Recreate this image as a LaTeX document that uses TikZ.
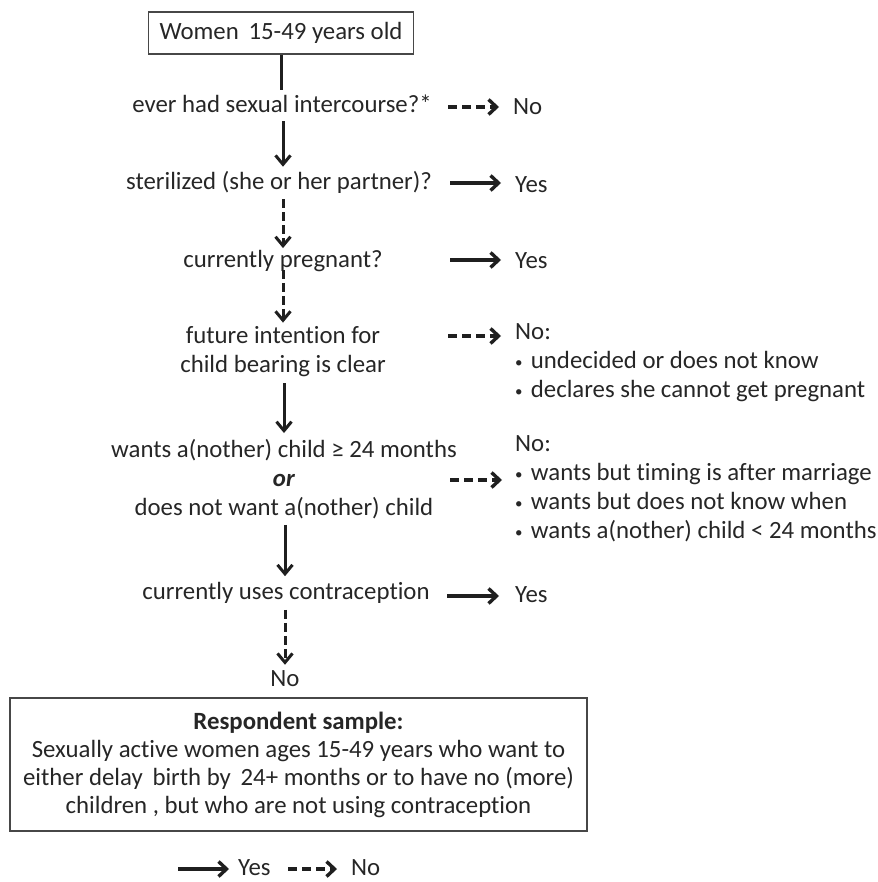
\documentclass[tikz,border=0pt]{standalone}
\usepackage{fontspec}
\setmainfont{Carlito}[Ligatures=NoCommon]
\usetikzlibrary{arrows.meta,calc}
\newcommand{\bul}{{\fontsize{15}{15}\selectfont\raisebox{1.5pt}{•}}\,\,}
\begin{document}
\begin{tikzpicture}[x=1pt,y=-1pt,
  every node/.style={font=\fontsize{24.8}{29}\selectfont, text=black!85, inner sep=0pt},
  q/.style={align=center},
  lab/.style={anchor=west, align=left},
  yarr/.style={draw=black!88, line width=3.4pt, -{Straight Barb[length=8pt,width=15pt]}},
  narr/.style={yarr, dash pattern=on 9pt off 5pt},
  varr/.style={draw=black!88, line width=3pt, -{Straight Barb[length=9pt,width=15pt]}},
  vdash/.style={varr, dash pattern=on 9pt off 4pt},
  frame/.style={draw=black!72, line width=1.8pt}
]
\useasboundingbox (0,0) rectangle (877,882);

% main column
\node[frame, minimum width=265pt, minimum height=42pt] (top) at (281,33) {Women\, 15-49 years old};
\node[q] (q1) at (282,104) {ever had sexual intercourse?*};
\node[q] (q2) at (279,182) {sterilized (she or her partner)?};
\node[q] (q3) at (283,261) {currently pregnant?};
\node[q] (q4) at (283,352) {future intention for\\child bearing is clear};
\node[q] (q5) at (284,479) {wants a(nother) child ≥ 24 months\\\textbf{\textit{or}}\\does not want a(nother) child};
\node[q] (q6) at (286,593) {currently uses contraception};
\node[q] (no7) at (285,679) {No};
\node[frame, minimum width=577pt, minimum height=133pt, align=center] (res) at (298.5,764.5)
  {\textbf{Respondent sample:}\\[-1pt]Sexually active women ages 15-49 years who want to\\[-1pt]either delay\, birth by\, 24+ months or to have no (more)\\[-1pt]children , but who are not using contraception};

% right column
\node[lab] (n1) at (513,107) {No};
\node[lab] (y2) at (515,185) {Yes};
\node[lab] (y3) at (515,261) {Yes};
\node[lab] (n4) at (515,363) {No:\\\bul undecided or does not know\\\bul declares she cannot get pregnant};
\node[lab] (n5) at (515,489) {No:\\\bul wants but timing is after marriage\\\bul wants but does not know when\\\bul wants a(nother) child < 24 months};
\node[lab] (y6) at (515,595) {Yes};

% legend
\node[lab] (ly) at (238,868) {Yes};
\node[lab] (ln) at (351,868) {No};

% start points of side arrows
\coordinate (s1) at (448,107);
\coordinate (s2) at (450,183);
\coordinate (s3) at (450,260);
\coordinate (s4) at (448,336);
\coordinate (s5) at (450,480);
\coordinate (s6) at (447,596);
\coordinate (sl) at (178,869);
\coordinate (sn) at (288,869);

% vertical connectors
\draw[draw=black!88, line width=3pt] (top.south) -- (top.south |- 0,90);
\draw[varr] ($(q1.south -| 283,0)+(0,8)$) -- ($(q2.north -| 283,0)+(0,-4)$);
\draw[vdash] ($(q2.south -| 283,0)+(0,6)$) -- ($(q3.north -| 283,0)+(0,-2)$);
\draw[vdash] ($(q3.south -| 283,0)+(0,-2)$) -- ($(q4.north -| 283,0)+(0,-4)$);
\draw[varr] ($(q4.south -| 284,0)+(0,6)$) -- ($(q5.north -| 284,0)+(0,-6)$);
\draw[varr] ($(q5.south -| 285,0)+(0,6)$) -- ($(q6.north -| 285,0)+(0,-6)$);
\draw[vdash] ($(q6.south -| 285,0)+(0,6)$) -- ($(no7.north -| 285,0)+(0,-6)$);

% side connectors
\draw[narr] (s1) -- ([xshift=-14pt]n1.west |- s1);
\draw[yarr] (s2) -- ([xshift=-14pt]y2.west |- s2);
\draw[yarr] (s3) -- ([xshift=-14pt]y3.west |- s3);
\draw[narr] (s4) -- ([xshift=-14pt]n4.west |- s4);
\draw[narr] (s5) -- ([xshift=-13pt]n5.west |- s5);
\draw[yarr] (s6) -- ([xshift=-16pt]y6.west |- s6);
\draw[yarr] (sl) -- ([xshift=-9pt]ly.west |- sl);
\draw[narr] (sn) -- ([xshift=-14pt]ln.west |- sn);
\end{tikzpicture}
\end{document}
